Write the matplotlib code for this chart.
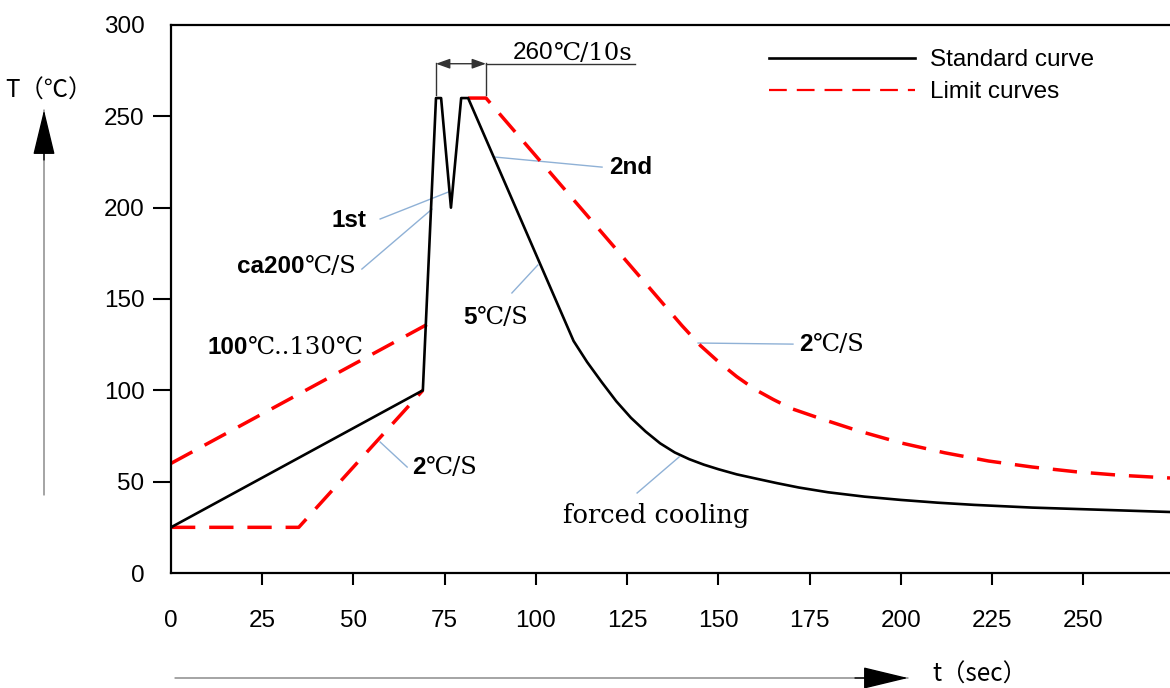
import numpy as np
import matplotlib.pyplot as plt
from matplotlib.lines import Line2D

# standard reflow curve (time s, temperature C)
std_t = [0, 69, 72.6, 74, 76.7, 79.5, 81.4, 110.3, 114, 118, 122, 126, 130, 134, 138, 142, 146,
         150, 155, 160, 166, 172, 180, 190, 200, 210, 220, 236, 255, 273.7]
std_T = [25, 100, 260, 260, 200, 260, 260, 127, 115.5, 104.5, 94, 85, 77.5, 71, 66, 62.3, 59.3,
         56.8, 54, 51.8, 49.2, 46.8, 44.2, 41.8, 40, 38.5, 37.3, 35.8, 34.6, 33.4]

# upper limit: preheat, then peak and cooling
up1_t = [0, 70.1]
up1_T = [60, 136]
up2_t = [81.4, 86.3, 140, 145, 150, 155, 160, 165, 170, 178, 188, 200, 212, 224, 236, 248, 260, 273.7]
up2_T = [260, 260, 135.4, 124.6, 115.6, 107.5, 100.5, 95, 90, 84.5, 78, 71.2, 65.8, 61.3, 58, 55.4, 53.5, 52]

# lower limit
low_t = [0, 35, 69]
low_T = [25, 25, 100]

xticks = [0, 25, 50, 75, 100, 125, 150, 175, 200, 225, 250]
yticks = [0, 50, 100, 150, 200, 250, 300]

sans = ['Liberation Sans', 'DejaVu Sans']
serif = ['DejaVu Serif', 'DejaVu Sans']
cjk = ['Noto Sans CJK SC', 'DejaVu Sans']
fs = 17.5
blue = '#8fb1d6'

fig = plt.figure(figsize=(11.7, 6.88), dpi=100)
ax = fig.add_axes([171 / 1170, (688 - 573) / 688, (1170 - 171) / 1170, (573 - 25) / 688])

red_dash = (0, (7, 4))
ax.plot(std_t, std_T, color='black', lw=1.9, zorder=3)
ax.plot(up1_t, up1_T, color='red', lw=2.5, linestyle=red_dash, zorder=2)
ax.plot(up2_t, up2_T, color='red', lw=2.5, linestyle=red_dash, zorder=2)
ax.plot(low_t, low_T, color='red', lw=2.5, linestyle=red_dash, zorder=2)

ax.set_xlim(0, 273.7)
ax.set_ylim(0, 300)
ax.set_xticks(xticks)
ax.set_yticks(yticks)
ax.set_xticklabels([str(v) for v in xticks], family=sans, fontsize=fs)
ax.set_yticklabels([str(v) for v in yticks], family=sans, fontsize=fs)
ax.spines['right'].set_visible(False)
for s in ['left', 'bottom', 'top']:
    ax.spines[s].set_linewidth(1.6)
ax.tick_params(axis='y', direction='out', length=13, width=1.5, pad=6)
ax.tick_params(axis='x', direction='out', length=8.6, width=1.5, pad=18)
ax.yaxis.get_major_ticks()[0].tick1line.set_visible(False)
ax.yaxis.get_major_ticks()[-1].tick1line.set_visible(False)
ax.xaxis.get_major_ticks()[0].tick1line.set_visible(False)

# legend
handles = [Line2D([], [], color='black', lw=1.9),
           Line2D([], [], color='red', lw=1.6, linestyle=(0, (8, 4.5)))]
ax.legend(handles, ['Standard curve', 'Limit curves'], loc='upper left',
          bbox_to_anchor=(757 / 1170, (688 - 37) / 688), bbox_transform=fig.transFigure,
          frameon=False, borderpad=0, handlelength=6.0, handletextpad=0.6,
          labelspacing=0.42, prop={'family': sans, 'size': fs})


def two_part(x, y, bold, rest):
    t1 = ax.text(x, y, bold, family=sans, fontweight='bold', fontsize=fs, ha='left', va='center')
    if rest:
        ax.annotate(rest, xy=(1, 0.5), xycoords=t1, ha='left', va='center',
                    family=serif, fontsize=fs)


def leader(p0, p1):
    ax.plot([p0[0], p1[0]], [p0[1], p1[1]], color=blue, lw=1.0, zorder=1)


two_part(44.1, 193.2, '1st', '')
leader((57.3, 193.8), (75.9, 208.5))
two_part(18.1, 168, 'ca200', '℃/S')
leader((52.3, 166.4), (71.5, 199.2))
two_part(120.0, 222.2, '2nd', '')
leader((88.8, 227.7), (118.1, 222.2))
two_part(80.0, 140.1, '5', '℃/S')
leader((100.5, 168.6), (93.4, 153.3))
two_part(172.1, 125.3, '2', '℃/S')
leader((144.4, 125.9), (170.4, 125.3))
two_part(66.0, 57.5, '2', '℃/S')
leader((57.3, 71.7), (64.7, 58.0))
two_part(10.1, 123.7, '100', '℃..130℃')
ax.text(107.4, 31.7, 'forced cooling', family=serif, fontsize=18.5, ha='left', va='center')
leader((139.2, 63.5), (127.7, 43.8))

# 260C/10s dimension
t_dim = ax.text(93.7, 284.6, '260', family=sans, fontsize=fs, ha='left', va='center')
ax.annotate('℃/10s', xy=(1, 0.5), xycoords=t_dim, ha='left', va='center', family=serif, fontsize=fs)
ax.plot([72.6, 72.6], [261.8, 279.3], color='#333333', lw=1.0)
ax.plot([86.3, 86.3], [261.8, 279.3], color='#333333', lw=1.0)
ax.plot([86.3, 127.1], [278.8, 278.8], color='#333333', lw=1.0)
ax.annotate('', xy=(72.6, 278.8), xytext=(86.3, 278.8),
            arrowprops=dict(arrowstyle='<|-|>,head_length=0.7,head_width=0.25', color='#333333',
                            lw=1.0, mutation_scale=12, shrinkA=0, shrinkB=0))

# axis arrows outside the plot: grey shaft, black head
big_head = '-|>,head_length=1.45,head_width=0.35'
for tail, tip, head_start in [((44, 688 - 495), (44, 688 - 110), (44, 688 - 160)),
                              ((175, 10), (908, 10), (855, 10))]:
    ax.annotate('', xy=tip, xytext=tail, xycoords='figure pixels', textcoords='figure pixels',
                arrowprops=dict(arrowstyle='-', color='#808080', lw=1.0, shrinkA=0, shrinkB=0))
    ax.annotate('', xy=tip, xytext=head_start, xycoords='figure pixels', textcoords='figure pixels',
                arrowprops=dict(arrowstyle=big_head, color='black', lw=1.0, mutation_scale=20,
                                shrinkA=0, shrinkB=0))
fig.text(49 / 1170, (688 - 91) / 688, 'T（℃）', family=cjk, fontsize=fs, ha='center', va='center')
fig.text(932 / 1170, 13 / 688, 't（sec）', family=cjk, fontsize=fs, ha='left', va='center')

fig.savefig('out.png', dpi=100)
